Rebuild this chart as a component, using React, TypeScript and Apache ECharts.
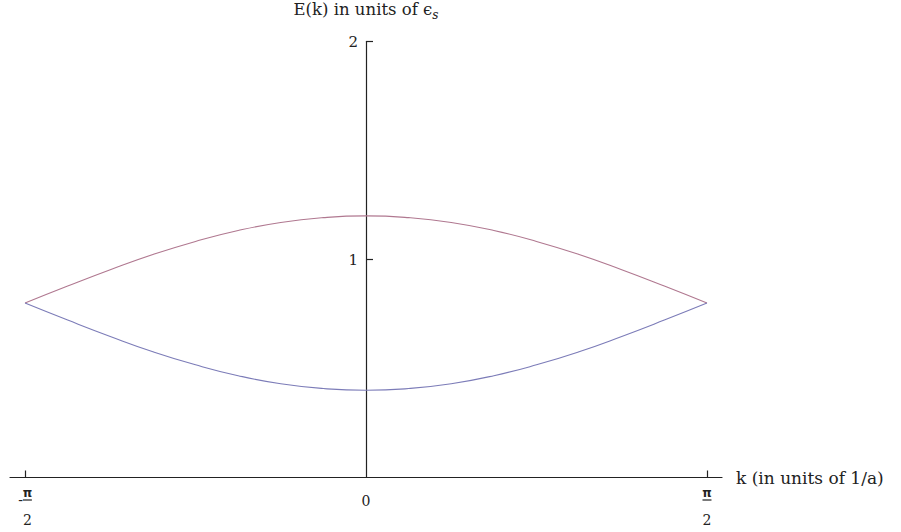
import React, { useEffect, useRef } from "react";
import * as echarts from "echarts";

// k values (units of 1/a), from -π/2 to π/2
const kValues = [
  -1.5708, -1.3744, -1.1781, -0.9817, -0.7854, -0.589, -0.3927, -0.1963, 0,
  0.1963, 0.3927, 0.589, 0.7854, 0.9817, 1.1781, 1.3744, 1.5708,
];
// upper band E(k) in units of ε_s
const upperBand = [
  0.8, 0.878, 0.953, 1.023, 1.083, 1.133, 1.17, 1.192, 1.2, 1.192, 1.17, 1.133,
  1.083, 1.023, 0.953, 0.878, 0.8,
];
// lower band E(k)
const lowerBand = [
  0.8, 0.722, 0.647, 0.577, 0.517, 0.467, 0.43, 0.408, 0.4, 0.408, 0.43, 0.467,
  0.517, 0.577, 0.647, 0.722, 0.8,
];
const xTickValues = [-1.5708, 0, 1.5708];
const xTickMarks = [-1.5708, 1.5708];
const yTickValues = [1, 2];

const FONT = "DejaVu Serif";
const INK = "#222";

export default function App() {
  const ref = useRef<HTMLDivElement>(null);
  useEffect(() => {
    if (!ref.current) return;
    const chart = echarts.init(ref.current, null, { renderer: "svg" });
    const pair = (ys: number[]) => kValues.map((k, i) => [k, ys[i]]);
    chart.setOption({
      animation: false,
      backgroundColor: "#fff",
      grid: {
        left: 10,
        right: 179,
        top: 41.5,
        bottom: 54.5,
        containLabel: false,
        outerBoundsMode: "none",
      },
      xAxis: {
        type: "value",
        min: -1.64,
        max: 1.64,
        name: "k (in units of 1/a)",
        nameLocation: "end",
        nameGap: 14,
        nameTextStyle: { fontFamily: FONT, fontSize: 17, color: INK },
        splitLine: { show: false },
        axisLine: { onZero: true, lineStyle: { color: INK, width: 1.2 } },
        axisTick: {
          show: true,
          inside: true,
          length: 7,
          customValues: xTickMarks,
          lineStyle: { color: INK, width: 1.2 },
        },
        axisLabel: {
          customValues: xTickValues,
          margin: 10,
          color: INK,
          fontFamily: FONT,
          formatter: (v: number) => {
            if (Math.abs(v) < 1e-6) return "{z|0}";
            if (v < 0) return "{h|-}{p|π}\n{m|-}{bar| }\n{h|-}{d|2}";
            return "{p|π}\n{bar| }\n{d|2}";
          },
          rich: {
            z: { fontFamily: FONT, fontSize: 14, color: INK, lineHeight: 26 },
            p: { fontFamily: "DejaVu Sans", fontSize: 12, fontWeight: "bold", color: INK, lineHeight: 10 },
            bar: { width: 9, height: 1.2, backgroundColor: INK, fontSize: 1, lineHeight: 5 },
            m: { fontFamily: FONT, fontSize: 14, color: INK, lineHeight: 5 },
            h: { fontFamily: FONT, fontSize: 14, color: "rgba(0,0,0,0)", lineHeight: 5 },
            d: { fontFamily: FONT, fontSize: 14, color: INK, lineHeight: 35 },
          },
        },
      },
      yAxis: {
        type: "value",
        min: 0,
        max: 2,
        offset: -356,
        name: "{a|E(k) in units of ϵ}{s|s}",
        nameLocation: "end",
        nameGap: 21,
        nameTextStyle: {
          rich: {
            a: { fontFamily: FONT, fontSize: 16.5, color: INK, lineHeight: 20, verticalAlign: "top" },
            s: {
              fontFamily: FONT,
              fontSize: 12,
              fontStyle: "italic",
              color: INK,
              lineHeight: 20,
              verticalAlign: "bottom",
            },
          },
        },
        splitLine: { show: false },
        axisLine: { show: true, onZero: false, lineStyle: { color: INK, width: 1.2 } },
        axisTick: {
          show: true,
          inside: true,
          length: 7,
          customValues: yTickValues,
          lineStyle: { color: INK, width: 1.2 },
        },
        axisLabel: {
          customValues: yTickValues,
          margin: 8,
          fontFamily: FONT,
          fontSize: 15,
          color: INK,
        },
      },
      series: [
        {
          type: "line",
          data: pair(upperBand),
          smooth: true,
          symbol: "none",
          lineStyle: { color: "#b07890", width: 1.1 },
        },
        {
          type: "line",
          data: pair(lowerBand),
          smooth: true,
          symbol: "none",
          lineStyle: { color: "#7c7cb8", width: 1.1 },
        },
      ],
    });
    return () => chart.dispose();
  }, []);
  return (
    <div
      ref={ref}
      style={{ position: "fixed", left: 0, top: 0, width: 901, height: 532 }}
    />
  );
}
